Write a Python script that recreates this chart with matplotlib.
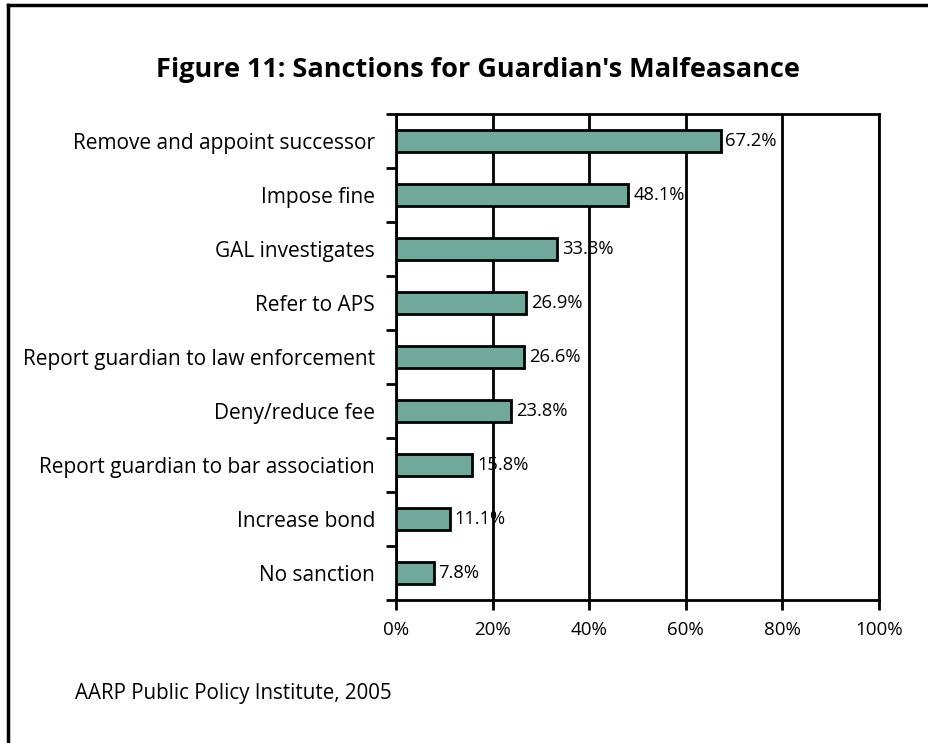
import matplotlib.pyplot as plt
from matplotlib.lines import Line2D

# Data
categories = [
    "Remove and appoint successor",
    "Impose fine",
    "GAL investigates",
    "Refer to APS",
    "Report guardian to law enforcement",
    "Deny/reduce fee",
    "Report guardian to bar association",
    "Increase bond",
    "No sanction",
]
values = [67.2, 48.1, 33.3, 26.9, 26.6, 23.8, 15.8, 11.1, 7.8]
x_ticks = [0, 20, 40, 60, 80, 100]
x_labels = ["0%", "20%", "40%", "60%", "80%", "100%"]

BAR_COLOR = "#71a89c"
FONT = "Open Sans"

fig = plt.figure(figsize=(9.29, 7.43), dpi=100)
ax = fig.add_axes([396 / 929, 1 - 600 / 743, 483 / 929, 486 / 743])

ypos = list(range(len(categories)))[::-1]
ax.barh(ypos, values, height=0.41, color=BAR_COLOR, edgecolor="black",
        linewidth=2, zorder=3)

for y, v in zip(ypos, values):
    ax.text(v + 1.0, y, f"{v:.1f}%", va="center", ha="left",
            fontsize=13.2, family=FONT, zorder=4)

ax.set_xlim(0, 100)
ax.set_ylim(-0.5, len(categories) - 0.5)
ax.set_xticks(x_ticks)
ax.set_xticklabels(x_labels, family=FONT, fontsize=13.5)
ax.xaxis.grid(True, color="black", linewidth=2, zorder=1)

# category labels at bar centres, ticks between bars
ax.set_yticks(ypos)
ax.set_yticklabels(categories, family=FONT, fontsize=15)
ax.tick_params(axis="y", length=0, pad=15)
ax.set_yticks([i - 0.5 for i in range(len(categories) + 1)], minor=True)
ax.tick_params(axis="y", which="minor", length=7, width=2)
ax.tick_params(axis="x", length=7, width=2, pad=8)

for s in ax.spines.values():
    s.set_linewidth(2)

fig.text(478 / 929, 1 - 70 / 743, "Figure 11: Sanctions for Guardian's Malfeasance",
         ha="center", va="center", fontsize=19.5, fontweight="bold",
         family=FONT)
fig.text(75 / 929, 1 - 694 / 743, "AARP Public Policy Institute, 2005",
         ha="left", va="center", fontsize=14.8, family=FONT)

# outer frame: only left and top edges are visible in the image
fig.add_artist(Line2D([8 / 929, 8 / 929], [0, 1 - 5 / 743], color="black",
                      linewidth=2.5, transform=fig.transFigure))
fig.add_artist(Line2D([8 / 929, 1], [1 - 5 / 743, 1 - 5 / 743], color="black",
                      linewidth=2.5, transform=fig.transFigure))

fig.savefig("out.png", dpi=100)
